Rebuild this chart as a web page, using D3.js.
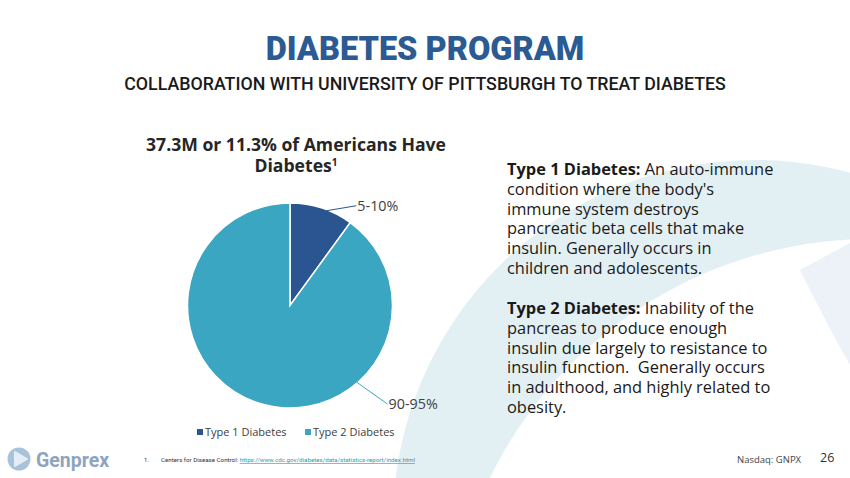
<!DOCTYPE html>
<html>
<head>
<meta charset="utf-8">
<script src="https://cdn.jsdelivr.net/npm/d3@7"></script>
<style>
  html, body { margin: 0; padding: 0; background: #fff; }
  svg { display: block; }
  text { white-space: pre; }
</style>
</head>
<body>
<script>
// chart data
const categories = ["Type 1 Diabetes", "Type 2 Diabetes"];
const shares = [10, 90];
const sliceLabels = ["5-10%", "90-95%"];
const colors = ["#2b5590", "#3aa6c1"];

const type1Lines = [
  ["Type 1 Diabetes:", " An auto-immune"],
  ["", "condition where the body's"],
  ["", "immune system destroys"],
  ["", "pancreatic beta cells that make"],
  ["", "insulin. Generally occurs in"],
  ["", "children and adolescents."]
];
const type2Lines = [
  ["Type 2 Diabetes:", " Inability of the"],
  ["", "pancreas to produce enough"],
  ["", "insulin due largely to resistance to"],
  ["", "insulin function.  Generally occurs"],
  ["", "in adulthood, and highly related to"],
  ["", "obesity."]
];

function draw() {
  const width = 850, height = 478;

  const svg = d3.select("body")
    .append("svg")
    .attr("width", width)
    .attr("height", height);

  // background swoosh
  const defs = svg.append("defs");
  defs.append("mask").attr("id", "bandMask")
    .call(m => {
      m.append("rect").attr("width", width).attr("height", height).attr("fill", "#fff");
      m.append("circle").attr("cx", 872).attr("cy", 664).attr("r", 425).attr("fill", "#000");
    });
  svg.append("circle")
    .attr("cx", 755).attr("cy", 522).attr("r", 362)
    .attr("fill", "#e3f0f3")
    .attr("mask", "url(#bandMask)");
  svg.append("path")
    .attr("d", "M850,243 L800,270 Q830,330 850,365 Z")
    .attr("fill", "#ecf2f8");

  // headings
  svg.append("text")
    .attr("x", 425).attr("y", 60)
    .attr("text-anchor", "middle")
    .style("font-family", "Roboto")
    .style("font-weight", 900)
    .style("font-size", "32.5px")
    .attr("fill", "#2c5b94")
    .text("DIABETES PROGRAM");

  svg.append("text")
    .attr("x", 425).attr("y", 90)
    .attr("text-anchor", "middle")
    .style("font-family", "Roboto")
    .style("font-weight", 500)
    .style("font-size", "17.8px")
    .attr("fill", "#1a1a1a")
    .text("COLLABORATION WITH UNIVERSITY OF PITTSBURGH TO TREAT DIABETES");

  // pie chart
  const cx = 290, cy = 305.5, radius = 102.5;
  const g = svg.append("g").attr("transform", "translate(" + cx + "," + cy + ")");

  svg.append("text")
    .attr("x", 296).attr("y", 151)
    .attr("text-anchor", "middle")
    .style("font-family", "Open Sans")
    .style("font-weight", 700)
    .style("font-size", "17.6px")
    .attr("fill", "#262626")
    .text("37.3M or 11.3% of Americans Have");
  const t2 = svg.append("text")
    .attr("x", 296).attr("y", 172)
    .attr("text-anchor", "middle")
    .style("font-family", "Open Sans")
    .style("font-weight", 700)
    .style("font-size", "17.6px")
    .attr("fill", "#262626")
    .text("Diabetes");
  t2.append("tspan").attr("dy", -6).style("font-size", "10px").text("1");

  const pie = d3.pie().sort(null).value(d => d);
  const arcs = pie(shares);
  const arc = d3.arc().innerRadius(0).outerRadius(radius);

  g.selectAll("path.slice")
    .data(arcs)
    .enter()
    .append("path")
    .attr("class", "slice")
    .attr("d", arc)
    .attr("fill", (d, i) => colors[i])
    .attr("stroke", "#fff")
    .attr("stroke-width", 1.5);

  // leader lines + labels (placement as in the source chart)
  const leaderAngle = [21, 139];
  const leaderOffset = [[30, -5], [31, 22]];
  arcs.forEach((d, i) => {
    const a = leaderAngle[i] * Math.PI / 180;
    const r = radius - 1;
    const x0 = r * Math.sin(a), y0 = -r * Math.cos(a);
    const x1 = x0 + leaderOffset[i][0], y1 = y0 + leaderOffset[i][1];
    g.append("line")
      .attr("x1", x0).attr("y1", y0).attr("x2", x1).attr("y2", y1)
      .attr("stroke", colors[i]).attr("stroke-width", 1);
    g.append("text")
      .attr("x", x1 + 1).attr("y", y1 + 5)
      .style("font-family", "Open Sans")
      .style("font-size", "14.3px")
      .attr("fill", "#404040")
      .text(sliceLabels[i]);
  });

  // legend
  const legendX = [197, 305];
  const legend = svg.selectAll("g.legend")
    .data(categories)
    .enter()
    .append("g")
    .attr("class", "legend")
    .attr("transform", (d, i) => "translate(" + legendX[i] + ",436)");
  legend.append("rect")
    .attr("x", 0).attr("y", -7).attr("width", 6).attr("height", 6)
    .attr("fill", (d, i) => colors[i]);
  legend.append("text")
    .attr("x", 8).attr("y", 0)
    .style("font-family", "Open Sans")
    .style("font-size", "11px")
    .attr("fill", "#404040")
    .text(d => d);

  // descriptive text
  function para(lines, y0) {
    lines.forEach((ln, i) => {
      const y = y0 + i * 19.8;
      let x = 507;
      if (ln[0]) {
        const b = svg.append("text")
          .attr("x", x).attr("y", y)
          .style("font-family", "Open Sans")
          .style("font-weight", 700)
          .style("font-size", "16.4px")
          .attr("fill", "#1a1a1a")
          .text(ln[0]);
        x += b.node().getComputedTextLength();
      }
      svg.append("text")
        .attr("x", x).attr("y", y)
        .style("font-family", "Open Sans")
        .style("font-size", "16.4px")
        .attr("fill", "#1a1a1a")
        .text(ln[1]);
    });
  }
  para(type1Lines, 175);
  para(type2Lines, 314);

  // footer
  svg.append("circle").attr("cx", 19).attr("cy", 459).attr("r", 11.5).attr("fill", "#a8c2da");
  svg.append("path")
    .attr("d", "M15,452 L27,459 L15,466 Z")
    .attr("fill", "#e4edf5")
    .attr("stroke", "#e4edf5").attr("stroke-width", 2).attr("stroke-linejoin", "round");
  svg.append("text")
    .attr("x", 36).attr("y", 467)
    .style("font-family", "Roboto")
    .style("font-weight", 700)
    .style("font-size", "19.5px")
    .attr("fill", "#8ea4bf")
    .text("Genprex");

  svg.append("text")
    .attr("x", 144).attr("y", 462)
    .style("font-family", "Roboto")
    .style("font-size", "6px")
    .attr("fill", "#333")
    .text("1.");
  const fn = svg.append("text")
    .attr("x", 161).attr("y", 462)
    .style("font-family", "Roboto")
    .style("font-size", "6.2px")
    .attr("fill", "#333");
  fn.append("tspan").text("Centers for Disease Control: ");
  fn.append("tspan").attr("fill", "#2a9bb5").style("text-decoration", "underline")
    .text("https://www.cdc.gov/diabetes/data/statistics-report/index.html");

  svg.append("text")
    .attr("x", 737).attr("y", 463)
    .style("font-family", "Open Sans")
    .style("font-size", "9.5px")
    .attr("fill", "#444")
    .text("Nasdaq: GNPX");
  svg.append("text")
    .attr("x", 820).attr("y", 462)
    .style("font-family", "Open Sans")
    .style("font-size", "12.5px")
    .attr("fill", "#333")
    .text("26");
}

window.addEventListener("load", draw);
</script>
</body>
</html>
